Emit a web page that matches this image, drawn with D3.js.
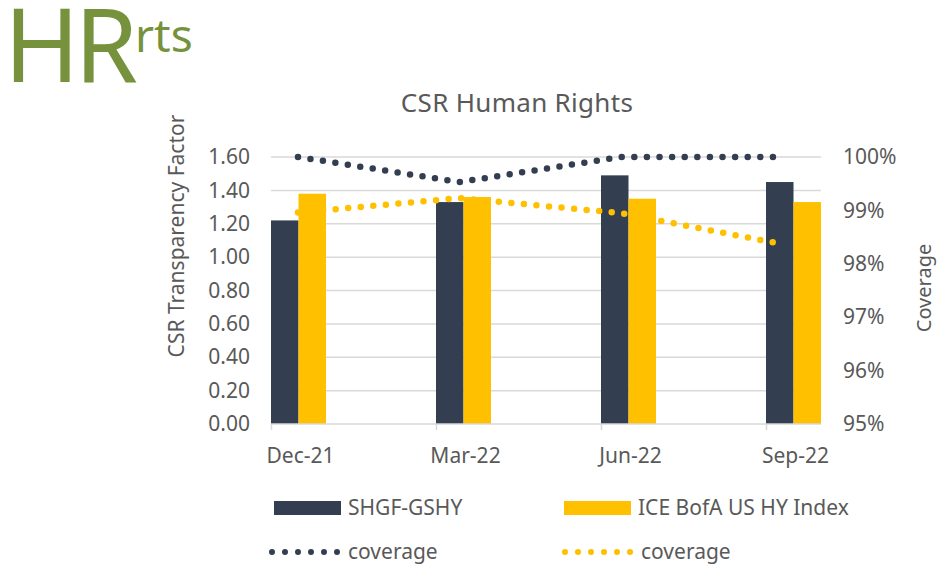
<!DOCTYPE html>
<html>
<head>
<meta charset="utf-8">
<script src="https://cdn.jsdelivr.net/npm/d3@7"></script>
<style>
  body { margin: 0; background: #fff; }
  svg text { font-family: "Noto Sans", sans-serif; fill: #595959; }
</style>
</head>
<body>
<div id="chart"></div>
<script>
// chart data
var quarters = ["Dec-21", "Mar-22", "Jun-22", "Sep-22"];
var fundScores = [1.22, 1.33, 1.49, 1.45];
var indexScores = [1.38, 1.36, 1.35, 1.33];
var fundCoverage = [1.0, 0.9953, 1.0, 1.0];
var indexCoverage = [0.9896, 0.9923, 0.9895, 0.9837];
var leftTicks = [0, 0.2, 0.4, 0.6, 0.8, 1.0, 1.2, 1.4, 1.6];
var rightTicks = [0.95, 0.96, 0.97, 0.98, 0.99, 1.0];

var svgWidth = 938;
var svgHeight = 564;

var margin = {top: 157, right: 117, bottom: 140, left: 271};
var width = svgWidth - margin.left - margin.right;
var height = svgHeight - margin.top - margin.bottom;

var darkColor = "#333f50";
var yellowColor = "#ffc000";

var svg = d3.select("#chart")
  .append("svg")
  .attr("width", svgWidth)
  .attr("height", svgHeight);

// big section heading
var heading = svg.append("text")
  .attr("x", 4)
  .attr("y", 82)
  .style("fill", "#76923c");
heading.append("tspan")
  .style("font-size", "102px")
  .style("letter-spacing", "-5px")
  .text("HR");
heading.append("tspan")
  .attr("dx", 2)
  .attr("dy", -30)
  .style("font-size", "46px")
  .text("rts");

svg.append("text")
  .attr("x", 517)
  .attr("y", 112)
  .attr("text-anchor", "middle")
  .style("font-size", "26px")
  .style("letter-spacing", "0.3px")
  .text("CSR Human Rights");

var chartGroup = svg.append("g")
  .attr("transform", `translate(${margin.left}, ${margin.top})`);

// scales
var xScale = d3.scalePoint()
  .domain(quarters)
  .range([0, 495]);

var barScale = d3.scaleBand()
  .domain(["fund", "index"])
  .range([0, 55]);

var lineX = d3.scalePoint()
  .domain(quarters)
  .range([27, 511]);

var yLeft = d3.scaleLinear()
  .domain([0, 1.6])
  .range([height, 0]);

var yRight = d3.scaleLinear()
  .domain([0.95, 1.0])
  .range([height, 0]);

// gridlines
chartGroup.append("g")
  .selectAll("line")
  .data(leftTicks.slice(1))
  .enter()
  .append("line")
  .attr("x1", 0)
  .attr("x2", width)
  .attr("y1", d => yLeft(d))
  .attr("y2", d => yLeft(d))
  .attr("stroke", "#d9d9d9")
  .attr("stroke-width", 1.5);

// left axis labels
var leftAxis = d3.axisLeft(yLeft)
  .tickValues(leftTicks)
  .tickFormat(d3.format(".2f"))
  .tickSize(0)
  .tickPadding(21);

chartGroup.append("g")
  .call(leftAxis)
  .call(g => g.select(".domain").remove())
  .selectAll("text")
  .style("font-size", "21px")
  .style("fill", "#595959");

// right axis labels
var rightAxis = d3.axisRight(yRight)
  .tickValues(rightTicks)
  .tickFormat(d3.format(".0%"))
  .tickSize(0)
  .tickPadding(22);

chartGroup.append("g")
  .attr("transform", `translate(${width}, 0)`)
  .call(rightAxis)
  .call(g => g.select(".domain").remove())
  .selectAll("text")
  .style("font-size", "21px")
  .style("fill", "#595959");

// bars
var barData = quarters.map(function(q, i) {
  return {q: q, fund: fundScores[i], index: indexScores[i]};
});

var groups = chartGroup.selectAll(".grp")
  .data(barData)
  .enter()
  .append("g")
  .attr("transform", d => `translate(${xScale(d.q)}, 0)`);

groups.append("rect")
  .attr("x", barScale("fund"))
  .attr("width", barScale.bandwidth())
  .attr("y", d => yLeft(d.fund))
  .attr("height", d => height - yLeft(d.fund))
  .attr("fill", darkColor);

groups.append("rect")
  .attr("x", barScale("index"))
  .attr("width", barScale.bandwidth())
  .attr("y", d => yLeft(d.index))
  .attr("height", d => height - yLeft(d.index))
  .attr("fill", yellowColor);

// bottom axis: ticks at the group's left edge, labels at the group's centre
var bottomAxis = d3.axisBottom(xScale)
  .tickSize(6)
  .tickPadding(18);

var xAxisGroup = chartGroup.append("g")
  .attr("transform", `translate(0, ${height})`)
  .call(bottomAxis);
xAxisGroup.select(".domain")
  .attr("d", `M0,0H${width}`)
  .attr("stroke", "#d9d9d9")
  .attr("stroke-width", 1.5);
xAxisGroup.selectAll(".tick line")
  .attr("stroke", "#d9d9d9")
  .attr("stroke-width", 1.5);
xAxisGroup.selectAll("text")
  .attr("x", 29)
  .style("font-size", "21px")
  .style("fill", "#595959");

// coverage lines
var coverageLine = d3.line()
  .x((d, i) => lineX(quarters[i]))
  .y(d => yRight(d));

chartGroup.append("path")
  .datum(fundCoverage)
  .attr("d", coverageLine)
  .attr("fill", "none")
  .attr("stroke", darkColor)
  .attr("stroke-width", 6.5)
  .attr("stroke-linecap", "round")
  .attr("stroke-dasharray", "0 12.6");

chartGroup.append("path")
  .datum(indexCoverage)
  .attr("d", coverageLine)
  .attr("fill", "none")
  .attr("stroke", yellowColor)
  .attr("stroke-width", 6.5)
  .attr("stroke-linecap", "round")
  .attr("stroke-dasharray", "0 12.6");

// axis titles
svg.append("text")
  .attr("transform", "rotate(-90)")
  .attr("x", -236)
  .attr("y", 184)
  .attr("text-anchor", "middle")
  .style("font-size", "21px")
  .text("CSR Transparency Factor");

svg.append("text")
  .attr("transform", "rotate(-90)")
  .attr("x", -288)
  .attr("y", 931)
  .attr("text-anchor", "middle")
  .style("font-size", "20px")
  .text("Coverage");

// legend
var legendItems = [
  {label: "SHGF-GSHY", color: darkColor, type: "bar", x: 274, y: 508},
  {label: "ICE BofA US HY Index", color: yellowColor, type: "bar", x: 564, y: 508},
  {label: "coverage", color: darkColor, type: "dots", x: 270, y: 552},
  {label: "coverage", color: yellowColor, type: "dots", x: 563, y: 552}
];

var legend = svg.append("g");

legendItems.forEach(function(item) {
  if (item.type == "bar") {
    legend.append("rect")
      .attr("x", item.x)
      .attr("y", item.y - 7)
      .attr("width", 67)
      .attr("height", 14)
      .attr("fill", item.color);
  } else {
    legend.append("line")
      .attr("x1", item.x + 2)
      .attr("x2", item.x + 68)
      .attr("y1", item.y)
      .attr("y2", item.y)
      .attr("stroke", item.color)
      .attr("stroke-width", 6)
      .attr("stroke-linecap", "round")
      .attr("stroke-dasharray", "0 13");
  }
  legend.append("text")
    .attr("x", item.x + (item.type == "bar" ? 74 : 78))
    .attr("y", item.y + 7)
    .style("font-size", "21px")
    .text(item.label);
});
</script>
</body>
</html>
